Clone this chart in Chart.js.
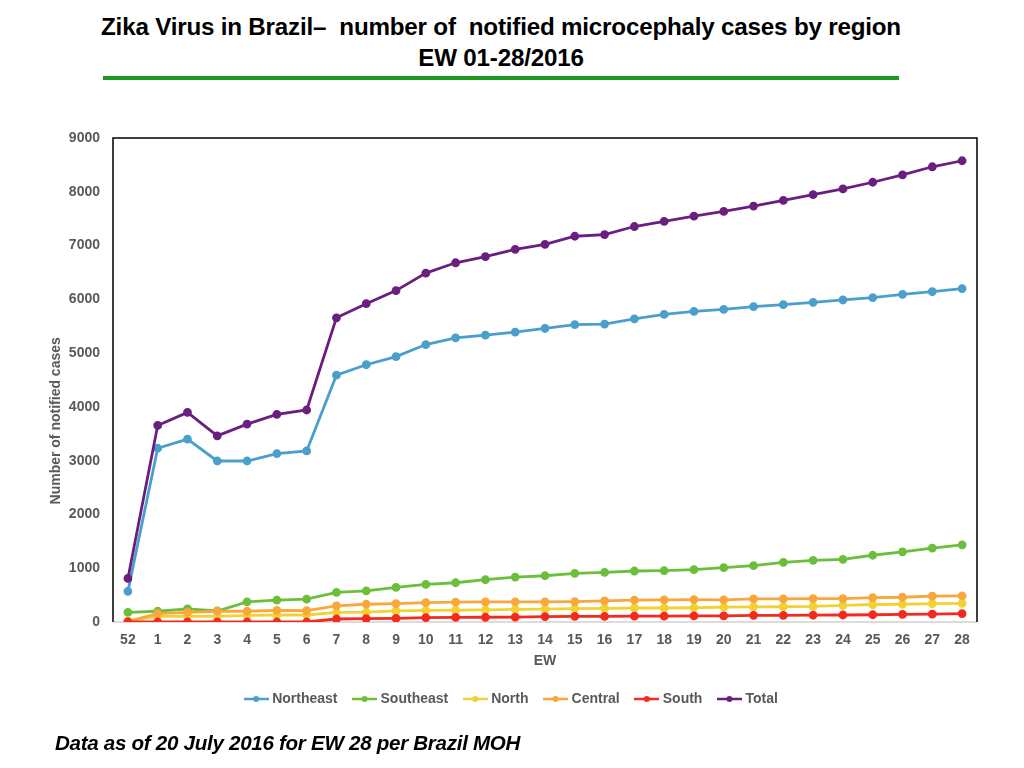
<!DOCTYPE html>
<html>
<head>
<meta charset="utf-8">
<script src="https://cdn.jsdelivr.net/npm/chart.js@4"></script>
<style>
  html, body { margin: 0; padding: 0; background: #fff; }
  body { width: 1024px; height: 768px; position: relative; overflow: hidden; font-family: "Liberation Sans", Arial, sans-serif; }
  #title { position: absolute; left: 0; top: 11px; width: 1002px; text-align: center; font-family: "Liberation Sans", Arial, sans-serif; font-weight: bold; font-size: 24.2px; line-height: 31px; color: #000; letter-spacing: -0.2px; }
  #rule { position: absolute; left: 103px; top: 76px; width: 796px; height: 4px; background: #1e9a1e; }
  #note { position: absolute; left: 55px; top: 731px; font-family: "Liberation Sans", Arial, sans-serif; font-weight: bold; font-style: italic; font-size: 20.6px; color: #000; letter-spacing: -0.3px; }
  #wrap { position: absolute; left: 0; top: 0; width: 1024px; height: 768px; }
</style>
</head>
<body>
<div id="title">Zika Virus in Brazil&#8211;&nbsp; number of&nbsp; notified microcephaly cases by region<br>EW 01-28/2016</div>
<div id="rule"></div>
<div id="wrap"><canvas id="c" width="1024" height="768"></canvas></div>
<div id="note">Data as of 20 July 2016 for EW 28 per Brazil MOH</div>
<script>
const weeks = ['52','1','2','3','4','5','6','7','8','9','10','11','12','13','14','15','16','17','18','19','20','21','22','23','24','25','26','27','28'];
const northeast = [570,3231,3400,2994,2994,3131,3181,4590,4784,4934,5159,5285,5333,5389,5458,5530,5539,5638,5720,5776,5813,5863,5900,5944,5988,6031,6094,6144,6200];
const southeast = [180,200,243,205,375,405,425,550,580,642,700,730,786,836,860,905,922,948,955,973,1010,1048,1110,1147,1166,1241,1304,1372,1435];
const north = [20,105,107,105,125,130,130,180,185,205,215,220,225,235,238,250,255,260,260,265,275,280,284,290,310,325,330,343,345];
const central = [10,155,180,200,200,215,210,300,330,343,360,368,373,375,375,380,393,405,410,415,410,430,430,436,436,455,460,480,485];
const south = [0,0,0,0,0,0,0,56,62,69,81,87,88,90,100,105,105,108,110,113,115,125,125,128,130,135,140,145,155];
const total = [810,3655,3898,3462,3680,3861,3942,5657,5919,6162,6487,6680,6793,6930,7023,7173,7204,7354,7448,7547,7635,7734,7840,7947,8053,8177,8315,8465,8577];
const yTicks = [0,1000,2000,3000,4000,5000,6000,7000,8000,9000];

const seriesNames = ['Northeast','Southeast','North','Central','South','Total'];
const seriesData = [northeast, southeast, north, central, south, total];
const seriesColors = ['#4a9fcd','#6bbf3b','#f2d233','#f9a73c','#f42a1e','#6a1f80'];

function legendIcon(color) {
  const cv = document.createElement('canvas');
  cv.width = 25; cv.height = 8;
  const g = cv.getContext('2d');
  g.strokeStyle = color; g.lineWidth = 2.5;
  g.beginPath(); g.moveTo(0, 4); g.lineTo(25, 4); g.stroke();
  g.fillStyle = color;
  g.beginPath(); g.arc(12.5, 4, 3, 0, Math.PI * 2); g.fill();
  return cv;
}

const frame = {
  id: 'frame',
  beforeDatasetsDraw(chart) {
    const a = chart.chartArea, ctx = chart.ctx;
    ctx.save();
    ctx.strokeStyle = '#d0d0d0'; ctx.lineWidth = 1.5;
    ctx.beginPath(); ctx.moveTo(a.left, a.bottom); ctx.lineTo(a.right, a.bottom); ctx.stroke();
    ctx.strokeStyle = '#000'; ctx.lineWidth = 1.5;
    ctx.beginPath();
    ctx.moveTo(a.left, a.bottom); ctx.lineTo(a.left, a.top); ctx.lineTo(a.right, a.top); ctx.lineTo(a.right, a.bottom);
    ctx.stroke();
    ctx.restore();
  }
};

const font14 = { family: '"Liberation Sans", Arial, sans-serif', weight: 'bold', size: 14 };
const yTitle = 'Number of notified cases' + '\u00A0'.repeat(21);

new Chart(document.getElementById('c'), {
  type: 'line',
  data: {
    labels: weeks,
    datasets: seriesNames.map((n, i) => ({
      label: n,
      data: seriesData[i],
      borderColor: seriesColors[i],
      backgroundColor: seriesColors[i],
      borderWidth: 2.8,
      pointRadius: 3,
      pointHoverRadius: 3,
      pointStyle: 'circle',
      tension: 0,
      order: 6 - i
    }))
  },
  options: {
    responsive: false,
    animation: false,
    devicePixelRatio: 1,
    layout: { padding: { left: 48, right: 47, top: 138, bottom: 52 } },
    plugins: {
      legend: {
        position: 'bottom',
        labels: {
          color: '#595959',
          font: font14,
          usePointStyle: true,
          pointStyleWidth: 18,
          boxHeight: 8,
          padding: 18,
          generateLabels(chart) {
            return chart.data.datasets.map((d, i) => ({
              text: d.label,
              fillStyle: d.borderColor,
              strokeStyle: d.borderColor,
              fontColor: '#595959',
              pointStyle: legendIcon(d.borderColor),
              lineWidth: 0,
              datasetIndex: i,
              hidden: false
            }));
          }
        }
      },
      tooltip: { enabled: false }
    },
    scales: {
      x: {
        offset: true,
        grid: { display: false, drawTicks: false },
        border: { display: false },
        ticks: { color: '#595959', font: font14, padding: 10, maxRotation: 0, autoSkip: false },
        title: { display: true, text: 'EW', color: '#595959', font: font14, padding: { top: 0, bottom: 4 } },
        afterFit(s) { s.height = 52; }
      },
      y: {
        min: 0, max: 9000,
        afterBuildTicks(s) { s.ticks = yTicks.map(v => ({ value: v })); },
        grid: { display: false, drawTicks: false },
        border: { display: false },
        ticks: { color: '#595959', font: font14, padding: 13, callback: v => String(v) },
        title: { display: true, text: yTitle, color: '#595959', font: font14, padding: 0 },
        afterFit(s) { s.width = 65; }
      }
    }
  },
  plugins: [frame]
});
</script>
</body>
</html>
